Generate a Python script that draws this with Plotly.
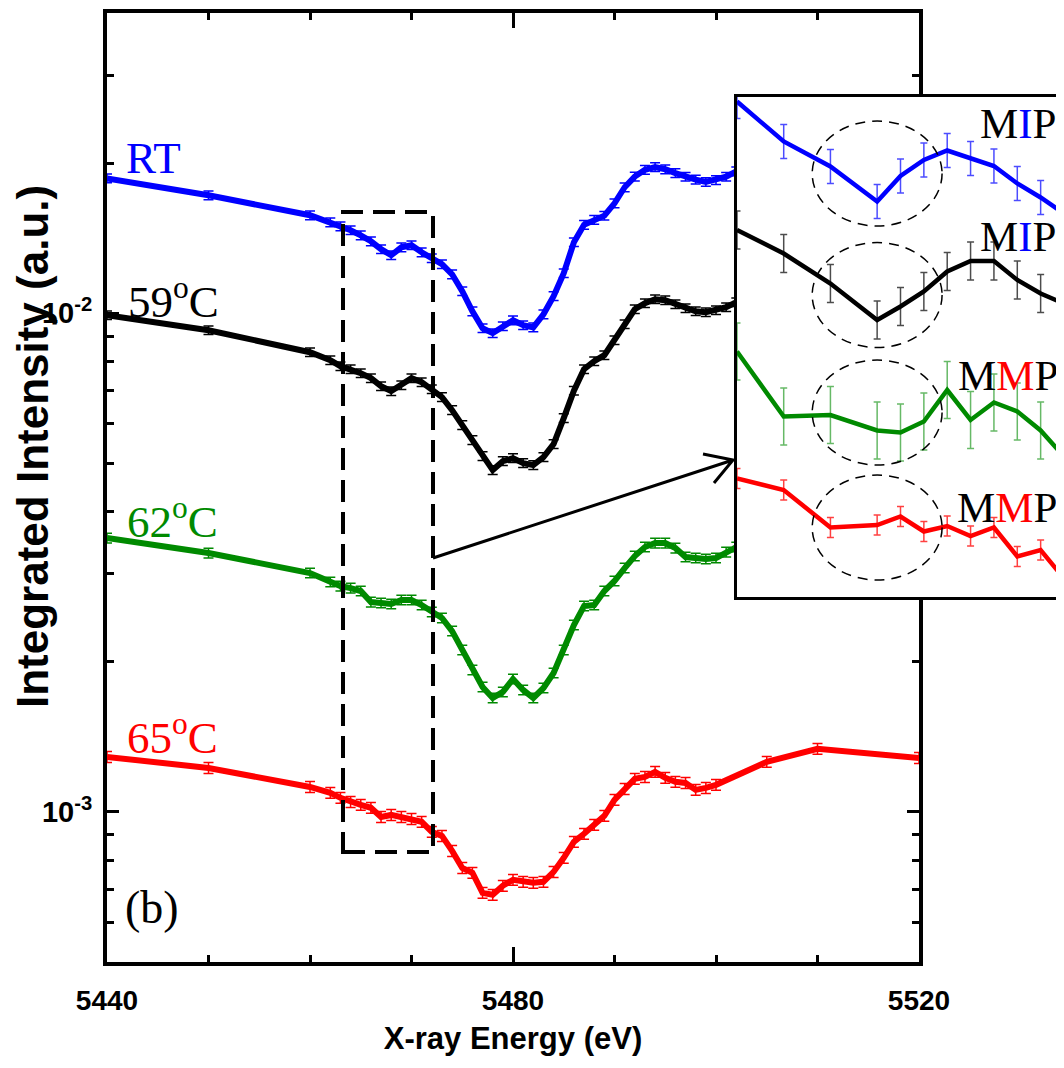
import math
import plotly.graph_objects as go

# ---------------- data ----------------
energy = [5440, 5450, 5460, 5462, 5463, 5464, 5465, 5466, 5467, 5468, 5469,
          5470, 5471, 5472, 5473, 5474, 5475, 5476, 5477, 5478, 5479, 5480,
          5481, 5482, 5483, 5484, 5485, 5486, 5487, 5488, 5489, 5490, 5491,
          5492, 5493, 5494, 5495, 5496, 5497, 5498, 5499, 5500, 5501, 5502]

rt = [0.01864, 0.01724, 0.01572, 0.01522, 0.01494, 0.01467, 0.01433, 0.01394,
      0.01344, 0.01307, 0.01356, 0.01369, 0.01325, 0.01289, 0.01254, 0.01197,
      0.01107, 0.01009, 0.00933, 0.00912, 0.00942, 0.00968, 0.00946, 0.00937,
      0.00995, 0.01082, 0.01203, 0.01388, 0.01504, 0.01539, 0.01569, 0.01661,
      0.01789, 0.01879, 0.01939, 0.01963, 0.01944, 0.01910, 0.01878, 0.01853,
      0.01833, 0.01849, 0.01878, 0.01926]

t59 = [0.009908, 0.009246, 0.008353, 0.008050, 0.007831, 0.007723, 0.007582,
       0.007409, 0.007140, 0.006977, 0.007173, 0.007409, 0.007273, 0.007042,
       0.006787, 0.006392, 0.005964, 0.005565, 0.005169, 0.004846, 0.005051,
       0.005122, 0.005005, 0.004959, 0.005145, 0.005464, 0.006160, 0.006993,
       0.007723, 0.008013, 0.008238, 0.008829, 0.009505, 0.010186, 0.010472,
       0.010667, 0.010618, 0.010424, 0.010233, 0.010093, 0.010046, 0.010139,
       0.010281, 0.010521]

t62 = [0.003541, 0.003304, 0.003013, 0.002890, 0.002837, 0.002811, 0.002773,
       0.002635, 0.002623, 0.002611, 0.002660, 0.002660, 0.002599, 0.002517,
       0.002448, 0.002305, 0.002112, 0.001926, 0.001780, 0.001692, 0.001740,
       0.001847, 0.001756, 0.001692, 0.001772, 0.001899, 0.002112, 0.002370,
       0.002587, 0.002599, 0.002773, 0.002904, 0.003083, 0.003259, 0.003397,
       0.003460, 0.003460, 0.003381, 0.003244, 0.003229, 0.003214, 0.003229,
       0.003319, 0.003397]

energy_65 = [5440, 5450, 5460, 5462, 5463, 5464, 5465, 5466, 5467, 5468, 5469,
             5470, 5471, 5472, 5473, 5474, 5475, 5476, 5477, 5478, 5479, 5480,
             5481, 5482, 5483, 5484, 5485, 5486, 5487, 5488, 5489, 5490, 5491,
             5492, 5493, 5494, 5495, 5496, 5497, 5498, 5499, 5500, 5505, 5510,
             5520]

t65 = [0.001289, 0.001225, 0.001122, 0.001092, 0.001067, 0.001047, 0.001033,
       0.001019, 0.000977, 0.000986, 0.000977, 0.000968, 0.000955, 0.000912,
       0.000895, 0.000835, 0.000772, 0.000755, 0.000688, 0.000682, 0.000711,
       0.000731, 0.000724, 0.000721, 0.000724, 0.000758, 0.000809, 0.000871,
       0.000904, 0.000942, 0.000982, 0.001057, 0.001112, 0.001165, 0.001175,
       0.001203, 0.001170, 0.001149, 0.001143, 0.001107, 0.001117, 0.001133,
       0.001260, 0.001338, 0.001283]

err_percent = [2.0, 2.0, 2.2, 2.5]

series_names = ["RT", "59<sup>o</sup>C", "62<sup>o</sup>C", "65<sup>o</sup>C"]

x_major_ticks = [5440, 5480, 5520]
x_tick_text = ["5440", "5480", "5520"]
y_major_ticks = [1e-3, 1e-2]
y_major_text = ["10<sup>-3</sup>", "10<sup>-2</sup>"]
y_minor_ticks = [6e-4, 7e-4, 8e-4, 9e-4, 2e-3, 3e-3, 4e-3, 5e-3, 6e-3, 7e-3,
                 8e-3, 9e-3, 2e-2, 3e-2]

# inset (zoom of the pre-edge region, arbitrary vertical units)
inset_energy = [5465, 5466, 5467, 5468, 5468.5, 5469, 5469.5, 5470, 5470.5,
                5471, 5471.5, 5472]
inset_rt = [9.91, 9.11, 8.61, 7.91, 8.42, 8.74, 8.93, 8.77, 8.62, 8.27, 7.99, 7.67]
inset_59 = [7.34, 6.87, 6.27, 5.54, 5.81, 6.11, 6.51, 6.72, 6.72, 6.34, 6.07, 5.87]
inset_62 = [4.91, 3.61, 3.64, 3.33, 3.29, 3.51, 4.14, 3.54, 3.89, 3.71, 3.33, 2.81]
inset_65 = [2.37, 2.14, 1.39, 1.44, 1.61, 1.31, 1.42, 1.22, 1.39, 0.81, 0.94, 0.37]
inset_err = [0.34, 0.38, 0.57, 0.20]
inset_labels = ["M<span style='color:#0000ff'>I</span>P",
                "M<span style='color:#0000ff'>I</span>P",
                "M<span style='color:#ff0000'>M</span>P",
                "M<span style='color:#ff0000'>M</span>P"]

# ---------------- styling / geometry ----------------
colors = ["#0000ff", "#000000", "#008a00", "#ff0000"]
inset_err_colors = ["rgba(0,0,255,0.7)", "rgba(0,0,0,0.7)",
                    "rgba(0,138,0,0.6)", "rgba(255,0,0,0.75)"]

OFF = 8                     # default page margin around the plot div
W, H = 1064 - OFF, 1068 - OFF
ML, MT, MR = 107 - OFF, 13 - OFF, 0
PW = W - ML - MR            # 957
PH = 949
MB = H - MT - PH


def paper(xp, yp):
    """page pixel -> paper coordinates"""
    return (xp - OFF - ML) / PW, (MT + PH - (yp - OFF)) / PH


SANS = "Liberation Sans, Arial, sans-serif"
SERIF = "Liberation Serif, Times New Roman, serif"

fig = go.Figure()

main_x = [energy, energy, energy, energy_65]
main_y = [rt, t59, t62, t65]
for i in range(4):
    fig.add_trace(go.Scatter(
        x=main_x[i], y=main_y[i], mode="lines", name=series_names[i],
        line=dict(color=colors[i], width=6),
        error_y=dict(type="percent", value=err_percent[i], color=colors[i],
                     thickness=1.5, width=5),
        xaxis="x", yaxis="y", showlegend=False))

inset_y = [inset_rt, inset_59, inset_62, inset_65]
for i in range(4):
    fig.add_trace(go.Scatter(
        x=inset_energy, y=inset_y[i], mode="lines", name=series_names[i] + " (inset)",
        line=dict(color=colors[i], width=4.5),
        error_y=dict(type="constant", value=inset_err[i], color=inset_err_colors[i],
                     thickness=1.5, width=3.5),
        xaxis="x2", yaxis="y2", showlegend=False))

main_right = (919 - 107) / PW
inset_x0, _ = paper(737, 0)
_, inset_y0 = paper(0, 597)
_, inset_y1 = paper(0, 97)

tickfont = dict(family=SANS, size=28, color="black", weight="bold")

fig.update_layout(
    width=W, height=H,
    margin=dict(l=ML, r=MR, t=MT, b=MB, pad=0),
    paper_bgcolor="white", plot_bgcolor="white",
    template="none",
    showlegend=False,
    xaxis=dict(domain=[0, main_right], range=[5440, 5520], anchor="y",
               tickmode="array", tickvals=x_major_ticks, ticktext=x_tick_text,
               ticks="inside", ticklen=15, tickwidth=3, tickcolor="black",
               showline=True, linewidth=4, linecolor="black", mirror="allticks",
               showgrid=False, zeroline=False, automargin=False,
               tickfont=tickfont, ticklabelstandoff=10,
               minor=dict(tickmode="linear", tick0=5440, dtick=10, ticks="inside",
                          ticklen=7, tickwidth=3, tickcolor="black", showgrid=False),
               title=dict(text="X-ray Energy (eV)", standoff=14,
                          font=dict(family=SANS, size=31, color="black", weight="bold"))),
    yaxis=dict(type="log", domain=[0, 1], anchor="x",
               range=[math.log10(5e-4), math.log10(0.04)],
               tickmode="array", tickvals=y_major_ticks, ticktext=y_major_text,
               ticks="inside", ticklen=12, tickwidth=3, tickcolor="black",
               showline=True, linewidth=4, linecolor="black", mirror="allticks",
               showgrid=False, zeroline=False, automargin=False,
               tickfont=dict(family=SANS, size=29, color="black", weight="bold"),
               ticklabelstandoff=5,
               minor=dict(tickmode="array", tickvals=y_minor_ticks, ticks="inside",
                          ticklen=7, tickwidth=3, tickcolor="black", showgrid=False)),
    xaxis2=dict(domain=[inset_x0, 1.0], range=[5465, 5472], anchor="y2",
                showline=True, linewidth=3, linecolor="black", mirror=True,
                ticks="", showticklabels=False, showgrid=False, zeroline=False),
    yaxis2=dict(domain=[inset_y0, inset_y1], range=[0, 10], anchor="x2",
                showline=True, linewidth=3, linecolor="black", mirror=False,
                ticks="", showticklabels=False, showgrid=False, zeroline=False),
)

shapes = []
# white background of the inset (drawn in the inset subplot, above the main plot)
shapes.append(dict(type="rect", xref="x2", yref="y2", x0=5460, x1=5480, y0=-5, y1=15,
                   fillcolor="white", line=dict(width=0), layer="below"))
# dashed selection box in the main plot
bx0, by0 = paper(343, 852)
bx1, by1 = paper(433, 212)
shapes.append(dict(type="rect", xref="paper", yref="paper", x0=bx0, y0=by0, x1=bx1, y1=by1,
                   line=dict(color="black", width=4, dash="22px,10px"), layer="above"))
# arrow from the box to the inset
a0 = paper(433, 558)
a1 = paper(733, 460)
h1 = paper(703, 454)
h2 = paper(714, 483)
path = (f"M{a0[0]},{a0[1]} L{a1[0]},{a1[1]} M{h1[0]},{h1[1]} L{a1[0]},{a1[1]} "
        f"L{h2[0]},{h2[1]}")
shapes.append(dict(type="path", xref="paper", yref="paper", path=path,
                   line=dict(color="black", width=3), layer="above"))
# dashed ellipses in the inset
ellipse_centers = [8.47, 6.04, 3.69, 1.39]
for c in ellipse_centers:
    shapes.append(dict(type="circle", xref="x2", yref="y2",
                       x0=5466.61, x1=5469.39, y0=c - 1.05, y1=c + 1.05,
                       line=dict(color="black", width=1.5, dash="10px,7px"),
                       layer="above"))
fig.update_layout(shapes=shapes)

annotations = []
# y-axis title
tx, ty = paper(33, 447)
annotations.append(dict(xref="paper", yref="paper", x=tx, y=ty,
                        text="Integrated Intensity (a.u.)", textangle=-90,
                        showarrow=False, xanchor="center", yanchor="middle",
                        font=dict(family=SANS, size=44, color="black", weight="bold")))
label_pos = [(153, 158), (173, 298), (172, 519), (172, 734)]
for i in range(4):
    ax_, ay_ = paper(*label_pos[i])
    annotations.append(dict(xref="paper", yref="paper", x=ax_, y=ay_, text=series_names[i],
                            showarrow=False, xanchor="center", yanchor="middle",
                            font=dict(family=SERIF, size=45, color=colors[i])))
bx, by = paper(152, 907)
annotations.append(dict(xref="paper", yref="paper", x=bx, y=by, text="(b)", showarrow=False,
                        xanchor="center", yanchor="middle",
                        font=dict(family=SERIF, size=46, color="black")))
inset_label_pos = [(1018, 123), (1018, 236), (1008, 375), (1007, 507)]
for i in range(4):
    lx, ly = paper(*inset_label_pos[i])
    annotations.append(dict(xref="paper", yref="paper", x=lx, y=ly, text=inset_labels[i],
                            showarrow=False, xanchor="center", yanchor="middle",
                            font=dict(family=SERIF, size=43, color="black")))
fig.update_layout(annotations=annotations)

fig.write_html("out.html")
